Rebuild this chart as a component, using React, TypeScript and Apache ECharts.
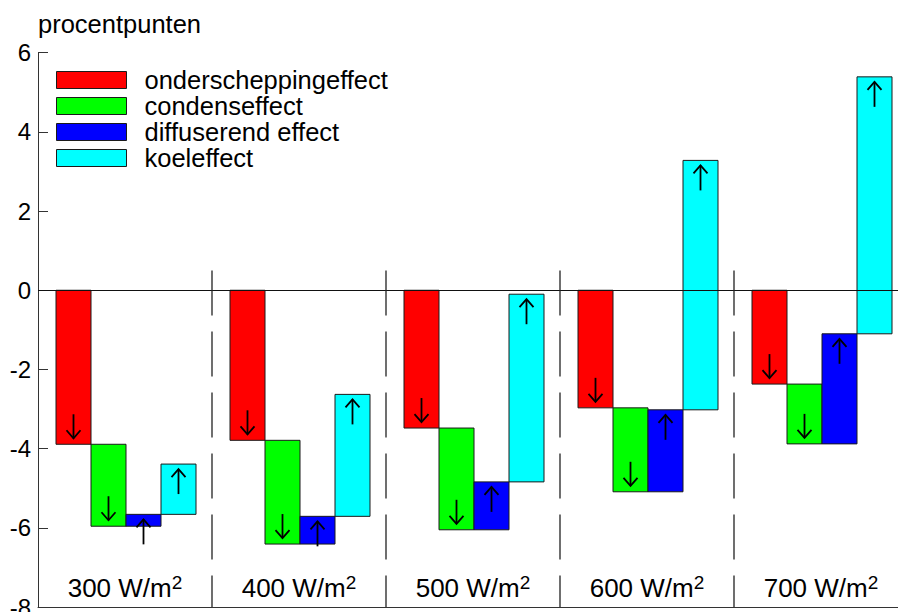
import React, { useEffect, useRef } from 'react';
import * as echarts from 'echarts';

// Categories (irradiance levels) and their unit (W/m², the "2" is a superscript)
const categories = ['300', '400', '500', '600', '700'];
const unitBase = 'W/m';
const unitSup = '2';

// Effect names (legend) and colours
const effectNames = ['onderscheppingeffect', 'condenseffect', 'diffuserend effect', 'koeleffect'];
const effectColors = ['#ff0000', '#00ff00', '#0000ff', '#00ffff'];

// Contribution of each effect (percentage points)
const onderscheppingeffect = [-3.89, -3.79, -3.48, -2.97, -2.37];
const condenseffect = [-2.07, -2.62, -2.57, -2.12, -1.51];
const diffuserendEffect = [0.3, 0.7, 1.21, 2.07, 2.78];
const koeleffect = [1.27, 3.08, 4.74, 6.3, 6.49];

// Y axis
const yMin = -8;
const yMax = 6;
const yInterval = 2;
const yName = 'procentpunten';

// category separators run from this value down to the bottom of the axis
const separatorTop = 0.5;

const FONT = 'Liberation Sans, Arial, Helvetica, sans-serif';

export default function App() {
  const ref = useRef<HTMLDivElement>(null);

  useEffect(() => {
    if (!ref.current) return;
    const chart = echarts.init(ref.current, null, { renderer: 'svg' });

    const effects = [onderscheppingeffect, condenseffect, diffuserendEffect, koeleffect];
    // waterfall: each effect starts where the previous one ended
    const seriesData: number[][][] = effects.map(() => []);
    categories.forEach((_, ci) => {
      let level = 0;
      effects.forEach((vals, k) => {
        const start = level;
        const end = level + vals[ci];
        seriesData[k].push([ci, start, end]);
        level = end;
      });
    });

    const OFFSET = 18 / 174;
    const WIDTH = 35 / 174;

    const makeRender = (k: number) => (params: any, api: any) => {
      const ci = api.value(0);
      const start = api.value(1);
      const end = api.value(2);
      const band = api.size([1, 0])[0];
      const center = api.coord([ci, 0])[0];
      const w = band * WIDTH;
      const x0 = center - band / 2 + band * OFFSET + k * w;
      const yS = api.coord([ci, start])[1];
      const yE = api.coord([ci, end])[1];
      const top = Math.min(yS, yE);
      const h = Math.abs(yE - yS);
      const cx = x0 + w / 2;
      const down = end < start;
      let tipY: number;
      let tailY: number;
      let head: number[][];
      if (down) {
        tipY = yE - 6;
        tailY = tipY - 24;
        head = [[cx - 7, tipY - 8], [cx, tipY], [cx + 7, tipY - 8]];
      } else {
        tipY = yE + 5;
        tailY = tipY + 25;
        head = [[cx - 7, tipY + 8], [cx, tipY], [cx + 7, tipY + 8]];
      }
      return {
        type: 'group',
        children: [
          {
            type: 'rect',
            shape: { x: x0, y: top, width: w, height: h },
            style: { fill: effectColors[k], stroke: '#1a1a1a', lineWidth: 1 },
          },
          {
            type: 'line',
            shape: { x1: cx, y1: tailY, x2: cx, y2: tipY },
            style: { stroke: '#000', lineWidth: 1.8 },
          },
          {
            type: 'polyline',
            shape: { points: head },
            style: { stroke: '#000', fill: null, lineWidth: 1.8 },
          },
        ],
      };
    };

    const separatorData = categories.slice(1).map((_, i) => [i + 1, separatorTop, yMin]);

    const option: any = {
      animation: false,
      backgroundColor: '#ffffff',
      textStyle: { fontFamily: FONT },
      graphic: [
        {
          type: 'text',
          x: 38,
          y: 11,
          style: {
            text: yName,
            fontSize: 25.5,
            fontFamily: FONT,
            fill: '#000',
            verticalAlign: 'top',
            align: 'left',
          },
        },
      ],
      legend: {
        orient: 'vertical',
        left: 56,
        top: 67,
        padding: 0,
        itemWidth: 70,
        itemHeight: 17,
        itemGap: 0,
        selectedMode: false,
        textStyle: {
          fontSize: 25.5,
          color: '#000',
          fontFamily: FONT,
          padding: [0, 0, 0, 13],
        },
        data: effectNames.map((n, i) => ({
          name: n,
          icon: 'rect',
          itemStyle: { color: effectColors[i], borderColor: '#1a1a1a', borderWidth: 1 },
        })),
      },
      grid: {
        left: 38,
        top: 52.7,
        right: 0,
        bottom: 5,
        containLabel: false,
        outerBoundsMode: 'none',
      },
      xAxis: {
        type: 'category',
        data: categories,
        boundaryGap: true,
        axisLine: { show: true, onZero: false, lineStyle: { color: '#333', width: 1 } },
        axisTick: { show: false },
        splitLine: { show: false },
        axisLabel: {
          inside: true,
          margin: 4,
          interval: 0,
          formatter: (v: string) => `{a|${v} ${unitBase}}{b|${unitSup}}`,
          rich: {
            a: { fontSize: 26, lineHeight: 30, color: '#000', fontFamily: FONT },
            b: { fontSize: 19, lineHeight: 12, color: '#000', fontFamily: FONT, verticalAlign: 'top' },
          },
        },
      },
      yAxis: {
        type: 'value',
        min: yMin,
        max: yMax,
        interval: yInterval,
        axisLine: { show: true, lineStyle: { color: '#333', width: 1 } },
        axisTick: { show: true, inside: true, length: 10, lineStyle: { color: '#333' } },
        splitLine: { show: false },
        axisLabel: { fontSize: 24, color: '#000', margin: 7, fontFamily: FONT },
      },
      series: [
        ...effectNames.map((n, k) => ({
          type: 'custom',
          name: n,
          z: 2,
          itemStyle: { color: effectColors[k] },
          encode: { x: 0, y: [1, 2] },
          data: seriesData[k],
          renderItem: makeRender(k),
        })),
        {
          type: 'custom',
          name: 'separators',
          z: 5,
          silent: true,
          encode: { x: 0, y: [1, 2] },
          data: separatorData,
          renderItem: (params: any, api: any) => {
            const ci = api.value(0);
            const band = api.size([1, 0])[0];
            const x = api.coord([ci, 0])[0] - band / 2;
            const y1 = api.coord([ci, api.value(1)])[1];
            const y2 = api.coord([ci, api.value(2)])[1];
            return {
              type: 'line',
              shape: { x1: x, y1, x2: x, y2 },
              style: { stroke: '#222', lineWidth: 1.3, lineDash: [45, 16] },
            };
          },
          markLine: {
            silent: true,
            symbol: ['none', 'none'],
            label: { show: false },
            lineStyle: { color: '#111', width: 1, type: 'solid' },
            data: [{ yAxis: 0 }],
          },
        },
      ],
    };

    chart.setOption(option);
    return () => chart.dispose();
  }, []);

  return (
    <div
      style={{
        position: 'fixed',
        left: 0,
        top: 0,
        width: 898,
        height: 612,
        overflow: 'hidden',
        background: '#fff',
      }}
    >
      <div ref={ref} style={{ width: 908, height: 612 }} />
    </div>
  );
}
